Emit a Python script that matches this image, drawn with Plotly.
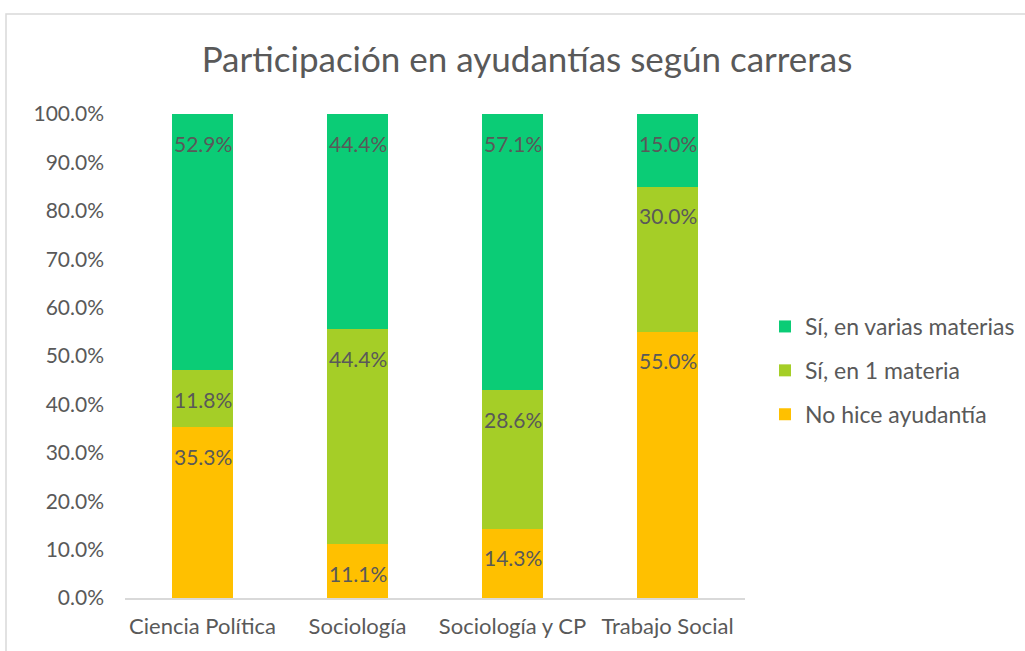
import plotly.graph_objects as go

# Data
carreras = ["Ciencia Política", "Sociología", "Sociología y CP", "Trabajo Social"]
no_hice = [35.3, 11.1, 14.3, 55.0]
una_materia = [11.8, 44.4, 28.6, 30.0]
varias_materias = [52.9, 44.4, 57.1, 15.0]

series = [
    ("No hice ayudantía", no_hice, "#FFC000"),
    ("Sí, en 1 materia", una_materia, "#A5CE27"),
    ("Sí, en varias materias", varias_materias, "#0BCC76"),
]

font_family = "Lato, Open Sans, sans-serif"
gray = "#595959"

# plot area: x 125..745, y 114..598
W, H = 1025, 651
L, R, T, B = 125, 280, 114, 53
pw, ph = W - L - R, H - T - B

fig = go.Figure()
bottoms = [0.0] * len(carreras)
for k, (name, vals, color) in enumerate(series):
    fig.add_trace(go.Bar(
        x=carreras, y=[v / 100 for v in vals], name=name,
        legendgroup=name, legendrank=len(series) - k,
        marker=dict(color=color, line=dict(width=0)),
    ))
    # data labels at the inside end of each segment
    for i, v in enumerate(vals):
        bottoms[i] += v / 100
        fig.add_annotation(x=carreras[i], y=bottoms[i], text=f"{v:.1f}%",
                           showarrow=False, yanchor="middle", yshift=-29,
                           font=dict(size=21, color=gray, family=font_family))

fig.update_layout(
    width=W, height=H,
    barmode="stack", bargap=0.606,
    plot_bgcolor="white", paper_bgcolor="white",
    margin=dict(l=L, r=R, t=T, b=B, autoexpand=False),
    font=dict(family=font_family, color=gray, size=20),
    title=dict(text="Participación en ayudantías según carreras",
               x=527 / W, xanchor="center", xref="container",
               y=1 - 60 / H, yanchor="middle", yref="container",
               font=dict(size=35, color=gray, family=font_family)),
    legend=dict(x=765 / W, xanchor="left", xref="container",
                y=1 - 305 / H, yanchor="top", yref="container",
                traceorder="grouped", font=dict(size=23, color=gray),
                itemwidth=30, tracegroupgap=11, bgcolor="rgba(0,0,0,0)"),
    showlegend=True,
)
fig.update_xaxes(showline=True, linecolor="#D9D9D9", linewidth=1.5, ticks="",
                 ticklabelstandoff=8,
                 tickfont=dict(size=22, color=gray), showgrid=False)
fig.update_yaxes(range=[0, 1], tickformat=".1%", dtick=0.1, showgrid=False,
                 zeroline=False, showline=False, ticks="",
                 ticklabelstandoff=20, tickfont=dict(size=21, color=gray))

# chart border (Excel chart area frame)
fig.add_shape(type="rect", xref="paper", yref="paper",
              x0=(6 - L) / pw, x1=(1040 - L) / pw,
              y0=-(H + 20 - T - ph) / ph, y1=1 + (T - 14) / ph,
              line=dict(color="#D9D9D9", width=1.5), fillcolor="rgba(0,0,0,0)", layer="below")

fig.write_html("out.html", config={"displayModeBar": False},
               post_script="document.body.style.margin='0';")
